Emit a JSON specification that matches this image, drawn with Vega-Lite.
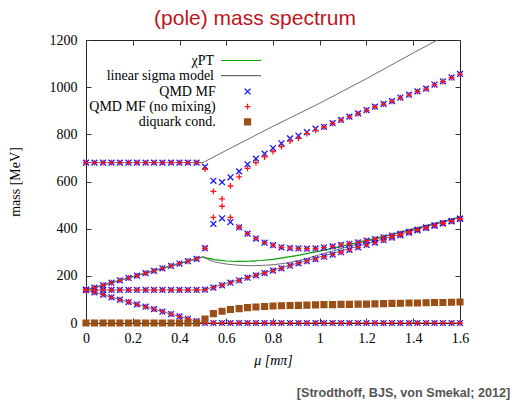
{
  "$schema": "https://vega.github.io/schema/vega-lite/v6.json",
  "background": "white",
  "padding": {"left": 7, "top": 7, "right": 5, "bottom": 0},
  "title": {"text": "[Strodthoff, BJS, von Smekal; 2012]", "orient": "bottom", "anchor": "end", "font": "Liberation Sans", "fontWeight": "bold", "fontSize": 12.6, "color": "#555555", "offset": 19, "dx": 41},
  "datasets": {
    "lines": [
      {"series":"χPT","branch":"u","mu":0,"mass":140},
      {"series":"χPT","branch":"u","mu":0.5,"mass":280},
      {"series":"χPT","branch":"u","mu":0.52,"mass":275},
      {"series":"χPT","branch":"u","mu":0.55,"mass":269},
      {"series":"χPT","branch":"u","mu":0.6,"mass":263},
      {"series":"χPT","branch":"u","mu":0.65,"mass":261},
      {"series":"χPT","branch":"u","mu":0.7,"mass":262},
      {"series":"χPT","branch":"u","mu":0.75,"mass":265},
      {"series":"χPT","branch":"u","mu":0.8,"mass":270},
      {"series":"χPT","branch":"u","mu":0.9,"mass":286},
      {"series":"χPT","branch":"u","mu":1.0,"mass":305},
      {"series":"χPT","branch":"u","mu":1.1,"mass":327},
      {"series":"χPT","branch":"u","mu":1.2,"mass":350},
      {"series":"χPT","branch":"u","mu":1.3,"mass":374},
      {"series":"χPT","branch":"u","mu":1.4,"mass":399},
      {"series":"χPT","branch":"u","mu":1.5,"mass":424},
      {"series":"χPT","branch":"u","mu":1.6,"mass":449},
      {"series":"linear sigma model","branch":"s","mu":0,"mass":680},
      {"series":"linear sigma model","branch":"s","mu":0.5,"mass":680},
      {"series":"linear sigma model","branch":"s","mu":0.6,"mass":732},
      {"series":"linear sigma model","branch":"s","mu":0.8,"mass":834},
      {"series":"linear sigma model","branch":"s","mu":1.0,"mass":932},
      {"series":"linear sigma model","branch":"s","mu":1.2,"mass":1036},
      {"series":"linear sigma model","branch":"s","mu":1.4,"mass":1145},
      {"series":"linear sigma model","branch":"s","mu":1.5,"mass":1198},
      {"series":"linear sigma model","branch":"s","mu":1.6,"mass":1252},
      {"series":"linear sigma model","branch":"u","mu":0,"mass":140},
      {"series":"linear sigma model","branch":"u","mu":0.5,"mass":280},
      {"series":"linear sigma model","branch":"u","mu":0.52,"mass":270},
      {"series":"linear sigma model","branch":"u","mu":0.55,"mass":259},
      {"series":"linear sigma model","branch":"u","mu":0.6,"mass":250},
      {"series":"linear sigma model","branch":"u","mu":0.65,"mass":245},
      {"series":"linear sigma model","branch":"u","mu":0.7,"mass":243},
      {"series":"linear sigma model","branch":"u","mu":0.75,"mass":244},
      {"series":"linear sigma model","branch":"u","mu":0.8,"mass":247},
      {"series":"linear sigma model","branch":"u","mu":0.85,"mass":253},
      {"series":"linear sigma model","branch":"u","mu":0.9,"mass":262},
      {"series":"linear sigma model","branch":"u","mu":0.95,"mass":275},
      {"series":"linear sigma model","branch":"u","mu":1.0,"mass":290},
      {"series":"linear sigma model","branch":"u","mu":1.05,"mass":304},
      {"series":"linear sigma model","branch":"u","mu":1.1,"mass":318},
      {"series":"linear sigma model","branch":"u","mu":1.2,"mass":345},
      {"series":"linear sigma model","branch":"u","mu":1.3,"mass":372},
      {"series":"linear sigma model","branch":"u","mu":1.4,"mass":398},
      {"series":"linear sigma model","branch":"u","mu":1.5,"mass":423},
      {"series":"linear sigma model","branch":"u","mu":1.6,"mass":448},
      {"series":"linear sigma model","branch":"m","mu":0,"mass":140},
      {"series":"linear sigma model","branch":"m","mu":0.5,"mass":140},
      {"series":"linear sigma model","branch":"m","mu":1.6,"mass":448},
      {"series":"linear sigma model","branch":"l","mu":0,"mass":140},
      {"series":"linear sigma model","branch":"l","mu":0.5,"mass":0},
      {"series":"linear sigma model","branch":"l","mu":1.6,"mass":0}
    ],
    "pts": [
      {"set":"QMD MF","mu":0,"mass":680},{"set":"QMD MF","mu":0.036,"mass":680},{"set":"QMD MF","mu":0.073,"mass":680},{"set":"QMD MF","mu":0.109,"mass":680},{"set":"QMD MF","mu":0.145,"mass":680},{"set":"QMD MF","mu":0.182,"mass":680},{"set":"QMD MF","mu":0.218,"mass":680},{"set":"QMD MF","mu":0.255,"mass":680},{"set":"QMD MF","mu":0.291,"mass":680},{"set":"QMD MF","mu":0.327,"mass":680},{"set":"QMD MF","mu":0.364,"mass":680},{"set":"QMD MF","mu":0.4,"mass":680},{"set":"QMD MF","mu":0.436,"mass":680},{"set":"QMD MF","mu":0.473,"mass":680},
      {"set":"QMD MF","mu":0,"mass":140},{"set":"QMD MF","mu":0.036,"mass":150},{"set":"QMD MF","mu":0.073,"mass":160},{"set":"QMD MF","mu":0.109,"mass":171},{"set":"QMD MF","mu":0.145,"mass":181},{"set":"QMD MF","mu":0.182,"mass":191},{"set":"QMD MF","mu":0.218,"mass":201},{"set":"QMD MF","mu":0.255,"mass":211},{"set":"QMD MF","mu":0.291,"mass":221},{"set":"QMD MF","mu":0.327,"mass":232},{"set":"QMD MF","mu":0.364,"mass":242},{"set":"QMD MF","mu":0.4,"mass":252},{"set":"QMD MF","mu":0.436,"mass":262},{"set":"QMD MF","mu":0.473,"mass":272},
      {"set":"QMD MF","mu":0,"mass":140},{"set":"QMD MF","mu":0.036,"mass":140},{"set":"QMD MF","mu":0.073,"mass":140},{"set":"QMD MF","mu":0.109,"mass":140},{"set":"QMD MF","mu":0.145,"mass":140},{"set":"QMD MF","mu":0.182,"mass":140},{"set":"QMD MF","mu":0.218,"mass":140},{"set":"QMD MF","mu":0.255,"mass":140},{"set":"QMD MF","mu":0.291,"mass":140},{"set":"QMD MF","mu":0.327,"mass":140},{"set":"QMD MF","mu":0.364,"mass":140},{"set":"QMD MF","mu":0.4,"mass":140},{"set":"QMD MF","mu":0.436,"mass":140},{"set":"QMD MF","mu":0.473,"mass":140},
      {"set":"QMD MF","mu":0,"mass":140},{"set":"QMD MF","mu":0.036,"mass":130},{"set":"QMD MF","mu":0.073,"mass":120},{"set":"QMD MF","mu":0.109,"mass":109},{"set":"QMD MF","mu":0.145,"mass":99},{"set":"QMD MF","mu":0.182,"mass":89},{"set":"QMD MF","mu":0.218,"mass":79},{"set":"QMD MF","mu":0.255,"mass":69},{"set":"QMD MF","mu":0.291,"mass":59},{"set":"QMD MF","mu":0.327,"mass":48},{"set":"QMD MF","mu":0.364,"mass":38},{"set":"QMD MF","mu":0.4,"mass":28},{"set":"QMD MF","mu":0.436,"mass":18},{"set":"QMD MF","mu":0.473,"mass":8},
      {"set":"QMD MF","mu":0.509,"mass":663},{"set":"QMD MF","mu":0.545,"mass":603},{"set":"QMD MF","mu":0.582,"mass":597},{"set":"QMD MF","mu":0.618,"mass":618},{"set":"QMD MF","mu":0.655,"mass":643},{"set":"QMD MF","mu":0.691,"mass":673},{"set":"QMD MF","mu":0.727,"mass":697},{"set":"QMD MF","mu":0.764,"mass":718},{"set":"QMD MF","mu":0.8,"mass":742},{"set":"QMD MF","mu":0.836,"mass":762},{"set":"QMD MF","mu":0.873,"mass":783},{"set":"QMD MF","mu":0.909,"mass":794},{"set":"QMD MF","mu":0.945,"mass":809},{"set":"QMD MF","mu":0.982,"mass":824},{"set":"QMD MF","mu":1.018,"mass":832},{"set":"QMD MF","mu":1.055,"mass":847},{"set":"QMD MF","mu":1.091,"mass":861},{"set":"QMD MF","mu":1.127,"mass":875},{"set":"QMD MF","mu":1.164,"mass":889},{"set":"QMD MF","mu":1.2,"mass":903},{"set":"QMD MF","mu":1.236,"mass":917},{"set":"QMD MF","mu":1.273,"mass":929},{"set":"QMD MF","mu":1.309,"mass":941},{"set":"QMD MF","mu":1.345,"mass":956},{"set":"QMD MF","mu":1.382,"mass":968},{"set":"QMD MF","mu":1.418,"mass":982},{"set":"QMD MF","mu":1.455,"mass":994},{"set":"QMD MF","mu":1.491,"mass":1011},{"set":"QMD MF","mu":1.527,"mass":1025},{"set":"QMD MF","mu":1.564,"mass":1041},{"set":"QMD MF","mu":1.6,"mass":1056},
      {"set":"QMD MF","mu":0.509,"mass":317},{"set":"QMD MF","mu":0.545,"mass":420},{"set":"QMD MF","mu":0.582,"mass":444},{"set":"QMD MF","mu":0.618,"mass":428},{"set":"QMD MF","mu":0.655,"mass":406},{"set":"QMD MF","mu":0.691,"mass":379},{"set":"QMD MF","mu":0.727,"mass":358},{"set":"QMD MF","mu":0.764,"mass":341},{"set":"QMD MF","mu":0.8,"mass":330},{"set":"QMD MF","mu":0.836,"mass":321},{"set":"QMD MF","mu":0.873,"mass":318},{"set":"QMD MF","mu":0.909,"mass":316},{"set":"QMD MF","mu":0.945,"mass":315},{"set":"QMD MF","mu":0.982,"mass":316},{"set":"QMD MF","mu":1.018,"mass":320},{"set":"QMD MF","mu":1.055,"mass":325},{"set":"QMD MF","mu":1.091,"mass":331},{"set":"QMD MF","mu":1.127,"mass":336},{"set":"QMD MF","mu":1.164,"mass":342},{"set":"QMD MF","mu":1.2,"mass":349},{"set":"QMD MF","mu":1.236,"mass":356},{"set":"QMD MF","mu":1.273,"mass":363},{"set":"QMD MF","mu":1.309,"mass":371},{"set":"QMD MF","mu":1.345,"mass":379},{"set":"QMD MF","mu":1.382,"mass":387},{"set":"QMD MF","mu":1.418,"mass":396},{"set":"QMD MF","mu":1.455,"mass":405},{"set":"QMD MF","mu":1.491,"mass":414},{"set":"QMD MF","mu":1.527,"mass":424},{"set":"QMD MF","mu":1.564,"mass":433},{"set":"QMD MF","mu":1.6,"mass":443},
      {"set":"QMD MF","mu":0.509,"mass":141},{"set":"QMD MF","mu":0.545,"mass":150},{"set":"QMD MF","mu":0.582,"mass":160},{"set":"QMD MF","mu":0.618,"mass":171},{"set":"QMD MF","mu":0.655,"mass":181},{"set":"QMD MF","mu":0.691,"mass":192},{"set":"QMD MF","mu":0.727,"mass":202},{"set":"QMD MF","mu":0.764,"mass":212},{"set":"QMD MF","mu":0.8,"mass":222},{"set":"QMD MF","mu":0.836,"mass":232},{"set":"QMD MF","mu":0.873,"mass":243},{"set":"QMD MF","mu":0.909,"mass":253},{"set":"QMD MF","mu":0.945,"mass":262},{"set":"QMD MF","mu":0.982,"mass":271},{"set":"QMD MF","mu":1.018,"mass":281},{"set":"QMD MF","mu":1.055,"mass":290},{"set":"QMD MF","mu":1.091,"mass":300},{"set":"QMD MF","mu":1.127,"mass":310},{"set":"QMD MF","mu":1.164,"mass":321},{"set":"QMD MF","mu":1.2,"mass":331},{"set":"QMD MF","mu":1.236,"mass":341},{"set":"QMD MF","mu":1.273,"mass":351},{"set":"QMD MF","mu":1.309,"mass":362},{"set":"QMD MF","mu":1.345,"mass":372},{"set":"QMD MF","mu":1.382,"mass":383},{"set":"QMD MF","mu":1.418,"mass":393},{"set":"QMD MF","mu":1.455,"mass":403},{"set":"QMD MF","mu":1.491,"mass":413},{"set":"QMD MF","mu":1.527,"mass":422},{"set":"QMD MF","mu":1.564,"mass":431},{"set":"QMD MF","mu":1.6,"mass":441},
      {"set":"QMD MF","mu":0.509,"mass":0},{"set":"QMD MF","mu":0.545,"mass":0},{"set":"QMD MF","mu":0.582,"mass":0},{"set":"QMD MF","mu":0.618,"mass":0},{"set":"QMD MF","mu":0.655,"mass":0},{"set":"QMD MF","mu":0.691,"mass":0},{"set":"QMD MF","mu":0.727,"mass":0},{"set":"QMD MF","mu":0.764,"mass":0},{"set":"QMD MF","mu":0.8,"mass":0},{"set":"QMD MF","mu":0.836,"mass":0},{"set":"QMD MF","mu":0.873,"mass":0},{"set":"QMD MF","mu":0.909,"mass":0},{"set":"QMD MF","mu":0.945,"mass":0},{"set":"QMD MF","mu":0.982,"mass":0},{"set":"QMD MF","mu":1.018,"mass":0},{"set":"QMD MF","mu":1.055,"mass":0},{"set":"QMD MF","mu":1.091,"mass":0},{"set":"QMD MF","mu":1.127,"mass":0},{"set":"QMD MF","mu":1.164,"mass":0},{"set":"QMD MF","mu":1.2,"mass":0},{"set":"QMD MF","mu":1.236,"mass":0},{"set":"QMD MF","mu":1.273,"mass":0},{"set":"QMD MF","mu":1.309,"mass":0},{"set":"QMD MF","mu":1.345,"mass":0},{"set":"QMD MF","mu":1.382,"mass":0},{"set":"QMD MF","mu":1.418,"mass":0},{"set":"QMD MF","mu":1.455,"mass":0},{"set":"QMD MF","mu":1.491,"mass":0},{"set":"QMD MF","mu":1.527,"mass":0},{"set":"QMD MF","mu":1.564,"mass":0},{"set":"QMD MF","mu":1.6,"mass":0},
      {"set":"QMD MF (no mixing)","mu":0,"mass":680},{"set":"QMD MF (no mixing)","mu":0.036,"mass":680},{"set":"QMD MF (no mixing)","mu":0.073,"mass":680},{"set":"QMD MF (no mixing)","mu":0.109,"mass":680},{"set":"QMD MF (no mixing)","mu":0.145,"mass":680},{"set":"QMD MF (no mixing)","mu":0.182,"mass":680},{"set":"QMD MF (no mixing)","mu":0.218,"mass":680},{"set":"QMD MF (no mixing)","mu":0.255,"mass":680},{"set":"QMD MF (no mixing)","mu":0.291,"mass":680},{"set":"QMD MF (no mixing)","mu":0.327,"mass":680},{"set":"QMD MF (no mixing)","mu":0.364,"mass":680},{"set":"QMD MF (no mixing)","mu":0.4,"mass":680},{"set":"QMD MF (no mixing)","mu":0.436,"mass":680},{"set":"QMD MF (no mixing)","mu":0.473,"mass":680},
      {"set":"QMD MF (no mixing)","mu":0,"mass":140},{"set":"QMD MF (no mixing)","mu":0.036,"mass":150},{"set":"QMD MF (no mixing)","mu":0.073,"mass":160},{"set":"QMD MF (no mixing)","mu":0.109,"mass":171},{"set":"QMD MF (no mixing)","mu":0.145,"mass":181},{"set":"QMD MF (no mixing)","mu":0.182,"mass":191},{"set":"QMD MF (no mixing)","mu":0.218,"mass":201},{"set":"QMD MF (no mixing)","mu":0.255,"mass":211},{"set":"QMD MF (no mixing)","mu":0.291,"mass":221},{"set":"QMD MF (no mixing)","mu":0.327,"mass":232},{"set":"QMD MF (no mixing)","mu":0.364,"mass":242},{"set":"QMD MF (no mixing)","mu":0.4,"mass":252},{"set":"QMD MF (no mixing)","mu":0.436,"mass":262},{"set":"QMD MF (no mixing)","mu":0.473,"mass":272},
      {"set":"QMD MF (no mixing)","mu":0,"mass":140},{"set":"QMD MF (no mixing)","mu":0.036,"mass":140},{"set":"QMD MF (no mixing)","mu":0.073,"mass":140},{"set":"QMD MF (no mixing)","mu":0.109,"mass":140},{"set":"QMD MF (no mixing)","mu":0.145,"mass":140},{"set":"QMD MF (no mixing)","mu":0.182,"mass":140},{"set":"QMD MF (no mixing)","mu":0.218,"mass":140},{"set":"QMD MF (no mixing)","mu":0.255,"mass":140},{"set":"QMD MF (no mixing)","mu":0.291,"mass":140},{"set":"QMD MF (no mixing)","mu":0.327,"mass":140},{"set":"QMD MF (no mixing)","mu":0.364,"mass":140},{"set":"QMD MF (no mixing)","mu":0.4,"mass":140},{"set":"QMD MF (no mixing)","mu":0.436,"mass":140},{"set":"QMD MF (no mixing)","mu":0.473,"mass":140},
      {"set":"QMD MF (no mixing)","mu":0,"mass":140},{"set":"QMD MF (no mixing)","mu":0.036,"mass":130},{"set":"QMD MF (no mixing)","mu":0.073,"mass":120},{"set":"QMD MF (no mixing)","mu":0.109,"mass":109},{"set":"QMD MF (no mixing)","mu":0.145,"mass":99},{"set":"QMD MF (no mixing)","mu":0.182,"mass":89},{"set":"QMD MF (no mixing)","mu":0.218,"mass":79},{"set":"QMD MF (no mixing)","mu":0.255,"mass":69},{"set":"QMD MF (no mixing)","mu":0.291,"mass":59},{"set":"QMD MF (no mixing)","mu":0.327,"mass":48},{"set":"QMD MF (no mixing)","mu":0.364,"mass":38},{"set":"QMD MF (no mixing)","mu":0.4,"mass":28},{"set":"QMD MF (no mixing)","mu":0.436,"mass":18},{"set":"QMD MF (no mixing)","mu":0.473,"mass":8},
      {"set":"QMD MF (no mixing)","mu":0.509,"mass":653},{"set":"QMD MF (no mixing)","mu":0.545,"mass":558},{"set":"QMD MF (no mixing)","mu":0.582,"mass":526},{"set":"QMD MF (no mixing)","mu":0.618,"mass":581},{"set":"QMD MF (no mixing)","mu":0.655,"mass":620},{"set":"QMD MF (no mixing)","mu":0.691,"mass":656},{"set":"QMD MF (no mixing)","mu":0.727,"mass":680},{"set":"QMD MF (no mixing)","mu":0.764,"mass":704},{"set":"QMD MF (no mixing)","mu":0.8,"mass":727},{"set":"QMD MF (no mixing)","mu":0.836,"mass":748},{"set":"QMD MF (no mixing)","mu":0.873,"mass":771},{"set":"QMD MF (no mixing)","mu":0.909,"mass":783},{"set":"QMD MF (no mixing)","mu":0.945,"mass":803},{"set":"QMD MF (no mixing)","mu":0.982,"mass":817},{"set":"QMD MF (no mixing)","mu":1.018,"mass":831},{"set":"QMD MF (no mixing)","mu":1.055,"mass":846},{"set":"QMD MF (no mixing)","mu":1.091,"mass":860},{"set":"QMD MF (no mixing)","mu":1.127,"mass":874},{"set":"QMD MF (no mixing)","mu":1.164,"mass":888},{"set":"QMD MF (no mixing)","mu":1.2,"mass":902},{"set":"QMD MF (no mixing)","mu":1.236,"mass":916},{"set":"QMD MF (no mixing)","mu":1.273,"mass":928},{"set":"QMD MF (no mixing)","mu":1.309,"mass":940},{"set":"QMD MF (no mixing)","mu":1.345,"mass":955},{"set":"QMD MF (no mixing)","mu":1.382,"mass":967},{"set":"QMD MF (no mixing)","mu":1.418,"mass":981},{"set":"QMD MF (no mixing)","mu":1.455,"mass":993},{"set":"QMD MF (no mixing)","mu":1.491,"mass":1010},{"set":"QMD MF (no mixing)","mu":1.527,"mass":1024},{"set":"QMD MF (no mixing)","mu":1.564,"mass":1040},{"set":"QMD MF (no mixing)","mu":1.6,"mass":1055},
      {"set":"QMD MF (no mixing)","mu":0.509,"mass":317},{"set":"QMD MF (no mixing)","mu":0.545,"mass":448},{"set":"QMD MF (no mixing)","mu":0.582,"mass":495},{"set":"QMD MF (no mixing)","mu":0.618,"mass":448},{"set":"QMD MF (no mixing)","mu":0.655,"mass":406},{"set":"QMD MF (no mixing)","mu":0.691,"mass":379},{"set":"QMD MF (no mixing)","mu":0.727,"mass":358},{"set":"QMD MF (no mixing)","mu":0.764,"mass":341},{"set":"QMD MF (no mixing)","mu":0.8,"mass":330},{"set":"QMD MF (no mixing)","mu":0.836,"mass":321},{"set":"QMD MF (no mixing)","mu":0.873,"mass":318},{"set":"QMD MF (no mixing)","mu":0.909,"mass":316},{"set":"QMD MF (no mixing)","mu":0.945,"mass":315},{"set":"QMD MF (no mixing)","mu":0.982,"mass":316},{"set":"QMD MF (no mixing)","mu":1.018,"mass":320},{"set":"QMD MF (no mixing)","mu":1.055,"mass":325},{"set":"QMD MF (no mixing)","mu":1.091,"mass":331},{"set":"QMD MF (no mixing)","mu":1.127,"mass":336},{"set":"QMD MF (no mixing)","mu":1.164,"mass":342},{"set":"QMD MF (no mixing)","mu":1.2,"mass":349},{"set":"QMD MF (no mixing)","mu":1.236,"mass":356},{"set":"QMD MF (no mixing)","mu":1.273,"mass":363},{"set":"QMD MF (no mixing)","mu":1.309,"mass":371},{"set":"QMD MF (no mixing)","mu":1.345,"mass":379},{"set":"QMD MF (no mixing)","mu":1.382,"mass":387},{"set":"QMD MF (no mixing)","mu":1.418,"mass":396},{"set":"QMD MF (no mixing)","mu":1.455,"mass":405},{"set":"QMD MF (no mixing)","mu":1.491,"mass":414},{"set":"QMD MF (no mixing)","mu":1.527,"mass":424},{"set":"QMD MF (no mixing)","mu":1.564,"mass":433},{"set":"QMD MF (no mixing)","mu":1.6,"mass":443},
      {"set":"QMD MF (no mixing)","mu":0.509,"mass":141},{"set":"QMD MF (no mixing)","mu":0.545,"mass":150},{"set":"QMD MF (no mixing)","mu":0.582,"mass":160},{"set":"QMD MF (no mixing)","mu":0.618,"mass":171},{"set":"QMD MF (no mixing)","mu":0.655,"mass":181},{"set":"QMD MF (no mixing)","mu":0.691,"mass":192},{"set":"QMD MF (no mixing)","mu":0.727,"mass":202},{"set":"QMD MF (no mixing)","mu":0.764,"mass":212},{"set":"QMD MF (no mixing)","mu":0.8,"mass":222},{"set":"QMD MF (no mixing)","mu":0.836,"mass":232},{"set":"QMD MF (no mixing)","mu":0.873,"mass":243},{"set":"QMD MF (no mixing)","mu":0.909,"mass":253},{"set":"QMD MF (no mixing)","mu":0.945,"mass":262},{"set":"QMD MF (no mixing)","mu":0.982,"mass":271},{"set":"QMD MF (no mixing)","mu":1.018,"mass":281},{"set":"QMD MF (no mixing)","mu":1.055,"mass":290},{"set":"QMD MF (no mixing)","mu":1.091,"mass":300},{"set":"QMD MF (no mixing)","mu":1.127,"mass":310},{"set":"QMD MF (no mixing)","mu":1.164,"mass":321},{"set":"QMD MF (no mixing)","mu":1.2,"mass":331},{"set":"QMD MF (no mixing)","mu":1.236,"mass":341},{"set":"QMD MF (no mixing)","mu":1.273,"mass":351},{"set":"QMD MF (no mixing)","mu":1.309,"mass":362},{"set":"QMD MF (no mixing)","mu":1.345,"mass":372},{"set":"QMD MF (no mixing)","mu":1.382,"mass":383},{"set":"QMD MF (no mixing)","mu":1.418,"mass":393},{"set":"QMD MF (no mixing)","mu":1.455,"mass":403},{"set":"QMD MF (no mixing)","mu":1.491,"mass":413},{"set":"QMD MF (no mixing)","mu":1.527,"mass":422},{"set":"QMD MF (no mixing)","mu":1.564,"mass":431},{"set":"QMD MF (no mixing)","mu":1.6,"mass":441},
      {"set":"QMD MF (no mixing)","mu":0.509,"mass":0},{"set":"QMD MF (no mixing)","mu":0.545,"mass":0},{"set":"QMD MF (no mixing)","mu":0.582,"mass":0},{"set":"QMD MF (no mixing)","mu":0.618,"mass":0},{"set":"QMD MF (no mixing)","mu":0.655,"mass":0},{"set":"QMD MF (no mixing)","mu":0.691,"mass":0},{"set":"QMD MF (no mixing)","mu":0.727,"mass":0},{"set":"QMD MF (no mixing)","mu":0.764,"mass":0},{"set":"QMD MF (no mixing)","mu":0.8,"mass":0},{"set":"QMD MF (no mixing)","mu":0.836,"mass":0},{"set":"QMD MF (no mixing)","mu":0.873,"mass":0},{"set":"QMD MF (no mixing)","mu":0.909,"mass":0},{"set":"QMD MF (no mixing)","mu":0.945,"mass":0},{"set":"QMD MF (no mixing)","mu":0.982,"mass":0},{"set":"QMD MF (no mixing)","mu":1.018,"mass":0},{"set":"QMD MF (no mixing)","mu":1.055,"mass":0},{"set":"QMD MF (no mixing)","mu":1.091,"mass":0},{"set":"QMD MF (no mixing)","mu":1.127,"mass":0},{"set":"QMD MF (no mixing)","mu":1.164,"mass":0},{"set":"QMD MF (no mixing)","mu":1.2,"mass":0},{"set":"QMD MF (no mixing)","mu":1.236,"mass":0},{"set":"QMD MF (no mixing)","mu":1.273,"mass":0},{"set":"QMD MF (no mixing)","mu":1.309,"mass":0},{"set":"QMD MF (no mixing)","mu":1.345,"mass":0},{"set":"QMD MF (no mixing)","mu":1.382,"mass":0},{"set":"QMD MF (no mixing)","mu":1.418,"mass":0},{"set":"QMD MF (no mixing)","mu":1.455,"mass":0},{"set":"QMD MF (no mixing)","mu":1.491,"mass":0},{"set":"QMD MF (no mixing)","mu":1.527,"mass":0},{"set":"QMD MF (no mixing)","mu":1.564,"mass":0},{"set":"QMD MF (no mixing)","mu":1.6,"mass":0},
      {"set":"diquark cond.","mu":0,"mass":0},{"set":"diquark cond.","mu":0.036,"mass":0},{"set":"diquark cond.","mu":0.073,"mass":0},{"set":"diquark cond.","mu":0.109,"mass":0},{"set":"diquark cond.","mu":0.145,"mass":0},{"set":"diquark cond.","mu":0.182,"mass":0},{"set":"diquark cond.","mu":0.218,"mass":0},{"set":"diquark cond.","mu":0.255,"mass":0},{"set":"diquark cond.","mu":0.291,"mass":0},{"set":"diquark cond.","mu":0.327,"mass":0},{"set":"diquark cond.","mu":0.364,"mass":0},{"set":"diquark cond.","mu":0.4,"mass":0},{"set":"diquark cond.","mu":0.436,"mass":0},{"set":"diquark cond.","mu":0.473,"mass":0},
      {"set":"diquark cond.","mu":0.509,"mass":17},{"set":"diquark cond.","mu":0.545,"mass":40},{"set":"diquark cond.","mu":0.582,"mass":50},{"set":"diquark cond.","mu":0.618,"mass":57},{"set":"diquark cond.","mu":0.655,"mass":61},{"set":"diquark cond.","mu":0.691,"mass":65},{"set":"diquark cond.","mu":0.727,"mass":68},{"set":"diquark cond.","mu":0.764,"mass":70},{"set":"diquark cond.","mu":0.8,"mass":72},{"set":"diquark cond.","mu":0.836,"mass":73},{"set":"diquark cond.","mu":0.873,"mass":74},{"set":"diquark cond.","mu":0.909,"mass":75},{"set":"diquark cond.","mu":0.945,"mass":76},{"set":"diquark cond.","mu":0.982,"mass":77},{"set":"diquark cond.","mu":1.018,"mass":78},{"set":"diquark cond.","mu":1.055,"mass":78},{"set":"diquark cond.","mu":1.091,"mass":79},{"set":"diquark cond.","mu":1.127,"mass":79},{"set":"diquark cond.","mu":1.164,"mass":80},{"set":"diquark cond.","mu":1.2,"mass":80},{"set":"diquark cond.","mu":1.236,"mass":81},{"set":"diquark cond.","mu":1.273,"mass":82},{"set":"diquark cond.","mu":1.309,"mass":83},{"set":"diquark cond.","mu":1.345,"mass":84},{"set":"diquark cond.","mu":1.382,"mass":85},{"set":"diquark cond.","mu":1.418,"mass":85},{"set":"diquark cond.","mu":1.455,"mass":86},{"set":"diquark cond.","mu":1.491,"mass":87},{"set":"diquark cond.","mu":1.527,"mass":87},{"set":"diquark cond.","mu":1.564,"mass":88},{"set":"diquark cond.","mu":1.6,"mass":89}
    ]
  },
  "vconcat": [
    {
      "title": {"text": "(pole) mass spectrum", "font": "Liberation Sans", "fontSize": 21, "fontWeight": "normal", "color": "#c0141c", "anchor": "middle", "frame": "group", "dx": -18, "offset": 4},
      "width": 374,
      "height": 283,
      "resolve": {"axis": {"x": "independent", "y": "independent"}},
      "layer": [
        {
          "data": {"name": "lines"},
          "transform": [{"filter": "datum.series === 'χPT'"}],
          "mark": {"type": "line", "strokeWidth": 1.2, "clip": true},
          "encoding": {
            "x": {"field": "mu", "type": "quantitative", "scale": {"domain": [0, 1.6], "nice": false, "zero": false},
                  "axis": {"orient": "bottom", "title": "μ [mπ]", "titleFontStyle": "italic", "values": [0, 0.2, 0.4, 0.6, 0.8, 1, 1.2, 1.4, 1.6], "format": "~g", "labelFlush": false, "tickSize": -5, "labelPadding": 13, "titlePadding": 8}},
            "y": {"field": "mass", "type": "quantitative", "scale": {"domain": [0, 1200], "nice": false},
                  "axis": {"orient": "left", "title": "mass [MeV]", "values": [0, 200, 400, 600, 800, 1000, 1200], "format": "d", "labelFlush": false, "tickSize": -5, "labelPadding": 14, "titlePadding": 27}},
            "color": {"field": "series", "type": "nominal", "scale": {"domain": ["χPT", "linear sigma model"], "range": ["#00a000", "#6e6e6e"]},
                      "legend": {"orient": "none", "legendX": 0, "legendY": 13.5, "title": null, "padding": 0, "symbolType": "M-5,0L5,0", "symbolSize": 64, "symbolStrokeWidth": 1.2, "labelAlign": "right", "labelOffset": -34, "symbolOffset": 148, "rowPadding": 1.2}},
            "detail": {"field": "branch"}
          }
        },
        {
          "data": {"name": "lines"},
          "transform": [{"filter": "datum.series === 'linear sigma model'"}],
          "mark": {"type": "line", "strokeWidth": 1, "clip": true},
          "encoding": {
            "x": {"field": "mu", "type": "quantitative",
                  "axis": {"orient": "top", "title": null, "labels": false, "values": [0, 0.2, 0.4, 0.6, 0.8, 1, 1.2, 1.4, 1.6], "tickSize": -5}},
            "y": {"field": "mass", "type": "quantitative",
                  "axis": {"orient": "right", "title": null, "labels": false, "values": [0, 200, 400, 600, 800, 1000, 1200], "tickSize": -5}},
            "color": {"field": "series", "type": "nominal"},
            "detail": {"field": "branch"}
          }
        },
        {
          "data": {"name": "pts"},
          "mark": {"type": "point", "size": 34, "strokeWidth": 1.3, "opacity": 1},
          "encoding": {
            "x": {"field": "mu", "type": "quantitative", "axis": null},
            "y": {"field": "mass", "type": "quantitative", "axis": null},
            "stroke": {"field": "set", "type": "nominal", "scale": {"domain": ["QMD MF", "QMD MF (no mixing)", "diquark cond."], "range": ["#1414ff", "#ff1414", "#9b4f14"]},
                       "legend": {"orient": "none", "legendX": 0, "legendY": 44.5, "title": null, "padding": 0, "symbolSize": 34, "symbolStrokeWidth": 1.3, "labelAlign": "right", "labelOffset": -38.9, "symbolOffset": 154.6, "rowPadding": 1.2}},
            "fill": {"field": "set", "type": "nominal", "scale": {"domain": ["QMD MF", "QMD MF (no mixing)", "diquark cond."], "range": ["transparent", "transparent", "#9b4f14"]},
                       "legend": {"orient": "none", "legendX": 0, "legendY": 44.5, "title": null, "padding": 0, "symbolSize": 34, "symbolStrokeWidth": 1.3, "labelAlign": "right", "labelOffset": -38.9, "symbolOffset": 154.6, "rowPadding": 1.2}},
            "shape": {"field": "set", "type": "nominal", "scale": {"domain": ["QMD MF", "QMD MF (no mixing)", "diquark cond."], "range": ["M-1,-1L1,1M1,-1L-1,1", "M-1,0L1,0M0,-1L0,1", "square"]},
                       "legend": {"orient": "none", "legendX": 0, "legendY": 44.5, "title": null, "padding": 0, "symbolSize": 34, "symbolStrokeWidth": 1.3, "labelAlign": "right", "labelOffset": -38.9, "symbolOffset": 154.6, "rowPadding": 1.2}}
          }
        }
      ]
    }
  ],
  "config": {
    "view": {"stroke": "#222222", "strokeWidth": 1},
    "axis": {"labelFont": "Liberation Serif", "labelFontSize": 14, "labelColor": "#000000", "titleFont": "Liberation Serif", "titleFontSize": 14, "titleFontWeight": "normal", "titleColor": "#000000", "tickColor": "#333333", "tickWidth": 1, "domain": false, "grid": false},
    "legend": {"labelFont": "Liberation Serif", "labelFontSize": 14, "labelColor": "#000000"},
    "concat": {"spacing": 0}
  }
}
